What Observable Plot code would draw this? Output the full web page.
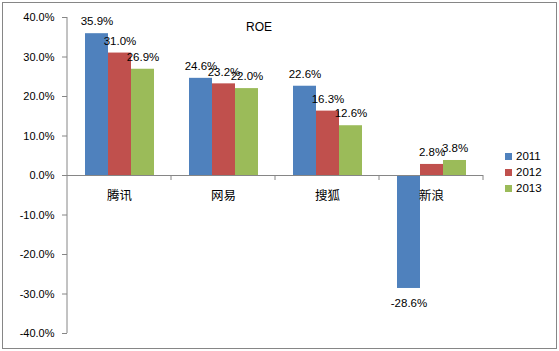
<!DOCTYPE html>
<html><head><meta charset="utf-8">
<script src="https://cdn.jsdelivr.net/npm/d3@7"></script>
<script src="https://cdn.jsdelivr.net/npm/@observablehq/plot@0.6"></script>
<style>
body{margin:0;background:#fff;}
#wrap{position:relative;width:559px;height:351px;font-family:"Liberation Sans",Arial,sans-serif;color:#000;}
#border{position:absolute;left:2px;top:2px;width:555px;height:347px;border:1px solid #868686;box-sizing:border-box;pointer-events:none;}
#chart{position:absolute;left:0;top:0;}
#title{position:absolute;left:246px;top:20px;font-size:12px;}
#legend{position:absolute;left:505px;top:144px;font-size:11.5px;}
#legend .item{display:flex;align-items:center;height:24px;margin-top:-8px;}
#legend .item:first-child{margin-top:0;}
#legend .sw{width:7px;height:7px;margin-right:4px;}
</style></head>
<body>
<div id="wrap"><div id="chart"></div><div id="title">ROE</div><div id="legend"></div><div id="border"></div></div>
<script>
const companies = ["腾讯","网易","搜狐","新浪"];
const years = ["2011","2012","2013"];
const roe2011 = [35.9,24.6,22.6,-28.6];
const roe2012 = [31.0,23.2,16.3,2.8];
const roe2013 = [26.9,22.0,12.6,3.8];
const yTicks = [-40,-30,-20,-10,0,10,20,30,40];
const colors = ["#4F81BD","#C0504D","#9BBB59"];

const series = [roe2011, roe2012, roe2013];
const data = [];
companies.forEach((c,i)=>years.forEach((y,j)=>data.push({company:c, year:y, value:series[j][i]})));
const fmt = v => v.toFixed(1) + "%";

const plot = Plot.plot({
  width:559, height:351,
  marginLeft:67, marginRight:76, marginTop:17, marginBottom:18,
  style:{fontFamily:'"Liberation Sans",Arial,sans-serif', fontSize:"11px", background:"transparent", color:"#000"},
  fx:{domain:companies, padding:0, axis:null, label:null},
  x:{domain:years, paddingInner:0, paddingOuter:0.73, axis:null, label:null},
  y:{domain:[-40,40], axis:null},
  color:{domain:years, range:colors},
  marks:[
    Plot.axisY({ticks:yTicks, tickFormat:fmt, tickSize:5, tickPadding:8, stroke:"#868686", fill:"#000", label:null}),
    Plot.barY(data,{fx:"company", x:"year", y:"value", fill:"year"}),
    Plot.ruleY([0],{stroke:"#868686"}),
    Plot.text(data.filter(d=>d.value>=0),{fx:"company", x:"year", y:"value", text:d=>fmt(d.value), dy:-12, fill:"#000", fontSize:11.5}),
    Plot.text(data.filter(d=>d.value<0),{fx:"company", x:"year", y:"value", text:d=>fmt(d.value), dy:15, fill:"#000", fontSize:11.5}),
    Plot.text(companies,{fx:d=>d, y:()=>0, text:d=>d, dy:20, fill:"#000", fontSize:12.5, fontFamily:'"Noto Sans CJK SC",sans-serif'})
  ]
});
document.getElementById("chart").appendChild(plot);

// axis line and category boundary ticks from Plot's own scales
const fxS = plot.scale("fx"), yS = plot.scale("y");
const svg = d3.select(plot);
const g = svg.append("g").attr("stroke","#868686");
const x0 = fxS.apply(companies[0]);
g.append("line").attr("x1",x0).attr("x2",x0).attr("y1",yS.apply(40)).attr("y2",yS.apply(-40));
companies.forEach(c=>{
  const xb = fxS.apply(c) + fxS.bandwidth;
  g.append("line").attr("x1",xb).attr("x2",xb).attr("y1",yS.apply(0)).attr("y2",yS.apply(0)+5);
});

const legend = d3.select("#legend");
years.forEach((y,i)=>{
  const it = legend.append("div").attr("class","item");
  it.append("div").attr("class","sw").style("background",colors[i]);
  it.append("span").text(y);
});
</script>
</body></html>
